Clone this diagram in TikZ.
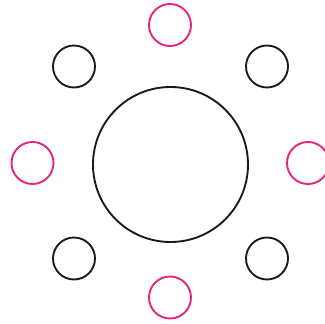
\documentclass[tikz,border=0pt]{standalone}
\usepackage{tikz}
\definecolor{CP}{HTML}{E8237A}
\definecolor{CK}{HTML}{1a1a1a}
\tikzset{
	ring/.style = {circle, draw=#1, line width=1.6pt, inner sep=0pt, minimum size=1.26cm},
	ring/.default = CK,
	hub/.style  = {circle, draw=CK, line width=1.6pt, inner sep=0pt, minimum size=4.65cm},
}

\begin{document}
\begin{tikzpicture}[x=0.03cm, y=-0.03cm]
		
		%%═══════════════════════════════════════════════════════════════════
		%% FRAME   (pixel grid 324 x 324, y downwards)
		%%═══════════════════════════════════════════════════════════════════
		\useasboundingbox (0, 0) rectangle (324, 324);
		
		%% centre circle ───────────────────────────────────────────────────
		\node[hub] (hub) at (170.5, 164.5) {};
		
		%% black rings on the diagonals ────────────────────────────────────
		\node[ring] (nw) at ( 74,  66.5) {};
		\node[ring] (ne) at (267,  66.5) {};
		\node[ring] (sw) at ( 74, 258.5) {};
		\node[ring] (se) at (267, 258.5) {};
		
		%% pink rings on the axes ──────────────────────────────────────────
		\node[ring=CP] (n) at (170,    25) {};
		\node[ring=CP] (w) at ( 32.5, 163) {};
		\node[ring=CP] (e) at (308,   163) {};
		\node[ring=CP] (s) at (170,  297.5) {};
		
	\end{tikzpicture}
\end{document}
